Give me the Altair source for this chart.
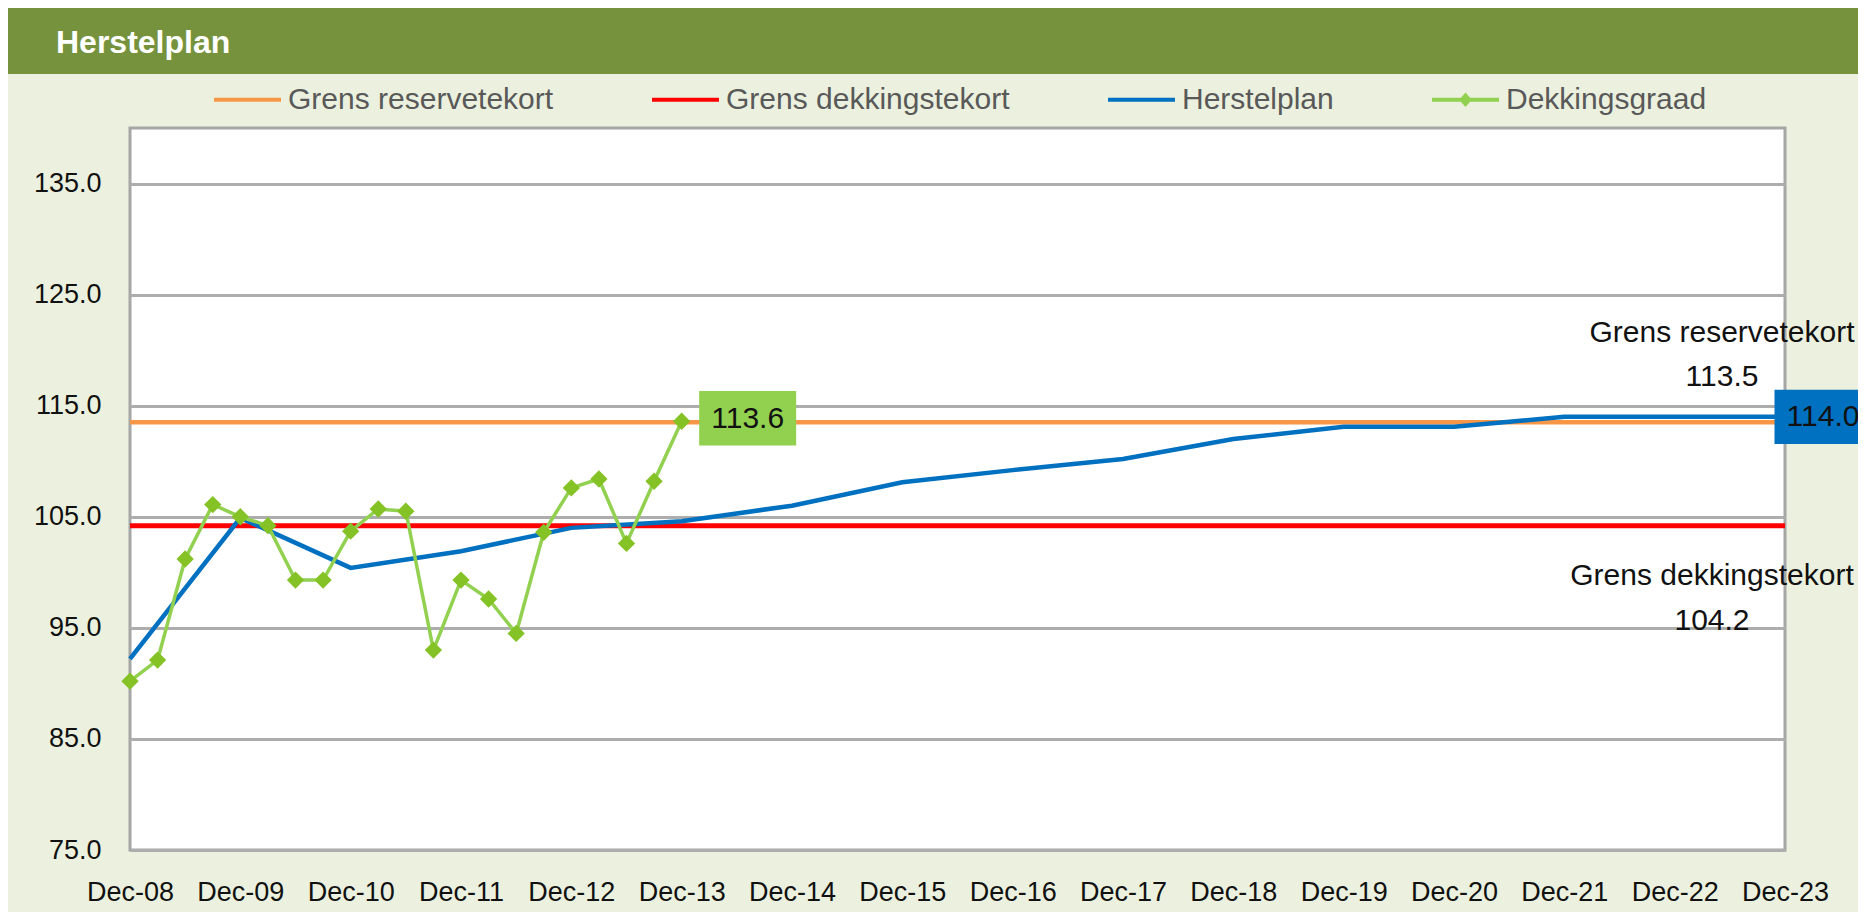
import json
import altair as alt
import pandas as pd

# ---------------- data ----------------
TITLE = "Herstelplan"
SERIES = ["Grens reservetekort", "Grens dekkingstekort", "Herstelplan", "Dekkingsgraad"]
COLORS = ["#F79646", "#FF0000", "#0070C0", "#92D050"]

YEAR_LABELS = ["Dec-08", "Dec-09", "Dec-10", "Dec-11", "Dec-12", "Dec-13", "Dec-14", "Dec-15",
               "Dec-16", "Dec-17", "Dec-18", "Dec-19", "Dec-20", "Dec-21", "Dec-22", "Dec-23"]
HERSTELPLAN = [92.2, 104.9, 100.4, 101.9, 104.0, 104.6, 106.0, 108.1,
               109.2, 110.2, 112.0, 113.1, 113.1, 114.0, 114.0, 114.0]

QUARTER_LABELS = ["Dec-08", "Mar-09", "Jun-09", "Sep-09", "Dec-09", "Mar-10", "Jun-10", "Sep-10",
                  "Dec-10", "Mar-11", "Jun-11", "Sep-11", "Dec-11", "Mar-12", "Jun-12", "Sep-12",
                  "Dec-12", "Mar-13", "Jun-13", "Sep-13", "Dec-13"]
DEKKINGSGRAAD = [90.2, 92.1, 101.2, 106.1, 105.0, 104.2, 99.3, 99.3,
                 103.7, 105.7, 105.5, 93.0, 99.3, 97.6, 94.5, 103.6,
                 107.6, 108.4, 102.6, 108.2, 113.6]

GRENS_RESERVETEKORT = 113.5
GRENS_DEKKINGSTEKORT = 104.2
Y_TICKS = [75, 85, 95, 105, 115, 125, 135]
Y_DOMAIN = [75, 140]

# ---------------- tables ----------------
QFRAC = {"Mar": 0.25, "Jun": 0.5, "Sep": 0.75, "Dec": 1.0}


def label_to_x(lbl):
    return int(lbl[-2:]) - 9 + QFRAC[lbl[:3]]


plan_df = pd.DataFrame({"x": [label_to_x(l) for l in YEAR_LABELS], "value": HERSTELPLAN,
                        "label": YEAR_LABELS})
dg_df = pd.DataFrame({"x": [label_to_x(l) for l in QUARTER_LABELS], "value": DEKKINGSGRAAD,
                      "label": QUARTER_LABELS})
x_start = plan_df["x"].min()
x_end = plan_df["x"].max()
thr_df = pd.DataFrame({
    "series": SERIES[:2],
    "value": [GRENS_RESERVETEKORT, GRENS_DEKKINGSTEKORT],
    "x": [x_start, x_start],
    "x1": [x_end, x_end],
})
thr_df["text"] = thr_df["series"] + "\n" + thr_df["value"].map(lambda v: f"{v:.1f}")

plan_last = plan_df.tail(1).assign(text=lambda d: d["value"].map(lambda v: f"{v:.1f}"))
dg_last = dg_df.tail(1).assign(text=lambda d: d["value"].map(lambda v: f"{v:.1f}"))
legend_df = pd.DataFrame({"series": SERIES})
title_df = pd.DataFrame({"t": [TITLE]})

# ---------------- style ----------------
W, H = 1655, 722
LABEL_FONT = "Liberation Sans, Arial, sans-serif"
TEXT_FONT = "Liberation Sans, Arial, sans-serif"
LINE_PATH = "M-1,-0.06L1,-0.06L1,0.06L-1,0.06Z"
LINE_DIAMOND_PATH = LINE_PATH + "M0,-0.22L0.19,0L0,0.22L-0.19,0Z"
BOX_PATH = "M-1,-0.56L1,-0.56L1,0.56L-1,0.56Z"

x_enc = alt.X("x:Q", scale=alt.Scale(domain=[x_start, x_end], nice=False, zero=False),
              axis=alt.Axis(values=list(range(len(YEAR_LABELS))),
                            labelExpr=f"{json.dumps(YEAR_LABELS)}[round(datum.value)]",
                            title=None, grid=False, domain=False, ticks=False,
                            labelFlush=False, labelFont=LABEL_FONT, labelFontSize=27,
                            labelColor="#111111", labelPadding=29, labelOverlap=False))
y_scale = alt.Scale(domain=Y_DOMAIN, nice=False, zero=False)
y_enc = alt.Y("value:Q", scale=y_scale,
              axis=alt.Axis(values=Y_TICKS, format=".1f", title=None, grid=True,
                            gridColor="#ADADAD", gridWidth=3, domain=False, ticks=False,
                            labelFlush=False, labelFont=LABEL_FONT, labelFontSize=27,
                            labelColor="#111111", labelPadding=29))

# header band and title
band = alt.Chart(title_df).mark_rect(color="#76923C").encode(
    x=alt.value(-122), x2=alt.value(W + 73), y=alt.value(-120), y2=alt.value(-54))
title = alt.Chart(title_df).mark_text(
    align="left", baseline="alphabetic", font=TEXT_FONT, fontSize=32, fontWeight="bold",
    color="white").encode(text="t:N", x=alt.value(-74), y=alt.value(-75))

# threshold lines
rule_res = alt.Chart(thr_df[thr_df.series == SERIES[0]]).mark_rule(
    color=COLORS[0], strokeWidth=4.5).encode(x=x_enc, x2="x1:Q", y=y_enc)
rule_dek = alt.Chart(thr_df[thr_df.series == SERIES[1]]).mark_rule(
    color=COLORS[1], strokeWidth=5).encode(x=x_enc, x2="x1:Q", y=y_enc)

plan_line = alt.Chart(plan_df).mark_line(color=COLORS[2], strokeWidth=4.5).encode(x=x_enc, y=y_enc)
dg_line = alt.Chart(dg_df).mark_line(color=COLORS[3], strokeWidth=3.5).encode(x=x_enc, y=y_enc)
dg_pts = alt.Chart(dg_df).mark_point(shape="diamond", filled=True, size=300, opacity=1,
                                     color="#84C225").encode(x=x_enc, y=y_enc)

# annotations of threshold lines
txt_res = alt.Chart(thr_df[thr_df.series == SERIES[0]]).mark_text(
    align="center", baseline="alphabetic", lineBreak="\n", lineHeight=44, font=TEXT_FONT,
    fontSize=30, color="#111111", dx=-63, dy=-80).encode(x="x1:Q", y=y_enc, text="text:N")
txt_dek = alt.Chart(thr_df[thr_df.series == SERIES[1]]).mark_text(
    align="center", baseline="alphabetic", lineBreak="\n", lineHeight=45, font=TEXT_FONT,
    fontSize=30, color="#111111", dx=-73, dy=59).encode(x="x1:Q", y=y_enc, text="text:N")

# data label boxes
plan_box = alt.Chart(plan_last).mark_point(
    shape=BOX_PATH, size=97 * 97, filled=True, opacity=1, color=COLORS[2], strokeWidth=0,
    xOffset=38).encode(x=x_enc, y=y_enc)
plan_txt = alt.Chart(plan_last).mark_text(
    align="center", baseline="middle", font=TEXT_FONT, fontSize=30, color="#111111",
    dx=38).encode(x=x_enc, y=y_enc, text="text:N")
dg_box = alt.Chart(dg_last).mark_point(
    shape=BOX_PATH, size=97 * 97, filled=True, opacity=1, color=COLORS[3], strokeWidth=0,
    xOffset=66, yOffset=-3).encode(x=x_enc, y=y_enc)
dg_txt = alt.Chart(dg_last).mark_text(
    align="center", baseline="middle", font=TEXT_FONT, fontSize=30, color="#111111",
    dx=66, dy=-2).encode(x=x_enc, y=y_enc, text="text:N")

# legend (invisible points carrying the legend)
legend_props = dict(title=None, orient="none", direction="horizontal",
                    legendX=84, legendY=-62, symbolSize=67 * 67,
                    symbolOpacity=1, symbolStrokeWidth=0,
                    columnPadding=98, labelOffset=7, padding=0,
                    labelFont=TEXT_FONT, labelFontSize=30,
                    labelColor="#595959", labelLimit=600)
legend_layer = alt.Chart(legend_df).mark_point(filled=True, opacity=0).encode(
    x=alt.value(0), y=alt.value(0),
    color=alt.Color("series:N", scale=alt.Scale(domain=SERIES, range=COLORS),
                    legend=alt.Legend(**legend_props)),
    shape=alt.Shape("series:N", scale=alt.Scale(domain=SERIES,
                                                range=[LINE_PATH, LINE_PATH, LINE_PATH,
                                                       LINE_DIAMOND_PATH]),
                    legend=alt.Legend(**legend_props)),
)

chart = alt.layer(
    band, title, rule_res, rule_dek, plan_line, dg_line, dg_pts,
    txt_res, txt_dek, plan_box, plan_txt, dg_box, dg_txt, legend_layer
).properties(
    width=W, height=H,
    padding={"left": 122, "top": 120, "right": 73, "bottom": 62},
    autosize=alt.AutoSizeParams(type="none"),
    background="#EBF1DE",
).configure_view(
    fill="white", stroke="#A6A6A6", strokeWidth=3
)

chart.save("out.html", embed_options={"renderer": "svg", "actions": False})
